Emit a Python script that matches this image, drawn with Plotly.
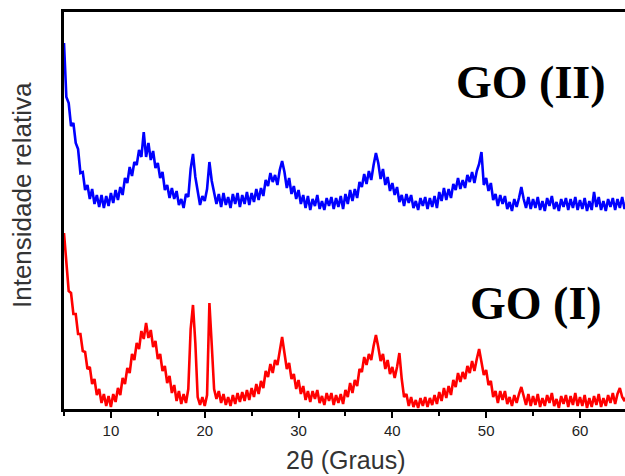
import numpy as np
import plotly.graph_objects as go

# 2θ sampling grid (degrees), 0.25° steps from 5° to 65°
two_theta = np.round(np.arange(5.0, 65.0 + 1e-9, 0.25), 2)

# Relative intensity of GO (II) (upper, blue pattern)
go_ii = [
    366, 312, 306, 283, 286, 266, 260, 236, 237, 219, 224, 210, 220, 205, 214, 202, 214, 201, 213, 203,
    216, 206, 219, 209, 222, 214, 231, 226, 242, 233, 247, 244, 259, 252, 277, 252, 266, 249, 258, 241,
    246, 231, 237, 219, 224, 211, 221, 210, 218, 204, 210, 201, 215, 212, 240, 255, 232, 216, 204, 213,
    208, 220, 247, 228, 216, 205, 215, 202, 216, 204, 212, 201, 215, 205, 216, 202, 214, 205, 217, 204,
    216, 207, 220, 209, 221, 213, 229, 223, 236, 227, 234, 224, 239, 248, 237, 221, 231, 215, 223, 210,
    219, 205, 214, 201, 213, 199, 210, 203, 214, 200, 208, 199, 211, 203, 212, 200, 211, 202, 213, 200,
    215, 205, 219, 208, 220, 211, 227, 222, 235, 225, 238, 229, 244, 256, 246, 230, 240, 224, 232, 218,
    226, 214, 222, 207, 214, 203, 215, 206, 214, 201, 208, 199, 211, 203, 212, 200, 211, 202, 213, 201,
    217, 208, 221, 209, 220, 211, 225, 219, 231, 220, 229, 221, 234, 227, 237, 226, 238, 245, 257, 224,
    231, 218, 226, 209, 215, 203, 214, 205, 213, 200, 207, 198, 210, 202, 211, 222, 210, 201, 212, 200,
    210, 201, 212, 199, 208, 198, 211, 203, 213, 200, 207, 198, 210, 202, 211, 199, 210, 201, 212, 199,
    209, 200, 211, 198, 208, 199, 217, 202, 212, 199, 208, 198, 210, 202, 211, 199, 210, 201, 212, 200, 209,
]

# Relative intensity of GO (I) (lower, red pattern)
go_i = [
    176, 146, 118, 116, 95, 95, 75, 75, 58, 57, 40, 42, 25, 30, 14, 20, 6, 15, 3, 13,
    2, 15, 7, 21, 14, 31, 25, 41, 36, 55, 49, 66, 60, 78, 70, 86, 71, 79, 62, 68,
    50, 55, 38, 43, 26, 33, 16, 24, 8, 18, 5, 15, 6, 20, 80, 104, 66, 12, 4, 12,
    3, 14, 106, 64, 20, 10, 18, 6, 15, 4, 12, 3, 14, 5, 16, 7, 17, 8, 19, 9,
    21, 12, 25, 15, 28, 21, 38, 32, 45, 36, 49, 44, 58, 72, 56, 40, 46, 30, 35, 20,
    29, 15, 23, 9, 18, 7, 18, 10, 19, 6, 13, 4, 16, 8, 16, 4, 14, 6, 15, 5,
    19, 12, 26, 16, 29, 23, 40, 37, 52, 44, 55, 49, 63, 74, 62, 48, 55, 40, 49, 35,
    42, 31, 42, 56, 30, 12, 15, 3, 12, 2, 9, 1, 11, 3, 12, 2, 11, 4, 14, 5,
    17, 8, 21, 11, 23, 14, 29, 22, 36, 27, 37, 30, 43, 36, 48, 38, 50, 60, 47, 34,
    39, 24, 28, 12, 18, 6, 18, 9, 18, 5, 12, 3, 14, 6, 15, 22, 13, 4, 15, 3,
    13, 4, 15, 2, 11, 3, 14, 6, 16, 3, 10, 1, 13, 5, 14, 2, 13, 4, 16, 3,
    12, 3, 14, 1, 11, 2, 13, 4, 15, 2, 11, 3, 14, 6, 16, 5, 15, 21, 12, 8, 14,
]

x_ticks = [10, 20, 30, 40, 50, 60]
x_tick_labels = ["10", "20", "30", "40", "50", "60"]
sample_labels = ["GO (II)", "GO (I)"]
x_title = "2θ (Graus)"
y_title = "Intensidade relativa"

sans = "Arial, Liberation Sans, sans-serif"
serif = "Times New Roman, Liberation Serif, serif"

fig = go.Figure()
fig.add_trace(go.Scatter(x=two_theta, y=go_ii, mode="lines",
                         line=dict(color="#0000ff", width=2.6), showlegend=False))
fig.add_trace(go.Scatter(x=two_theta, y=go_i, mode="lines",
                         line=dict(color="#ff0000", width=2.6), showlegend=False))

fig.update_layout(
    width=625, height=476,
    margin=dict(l=64, r=0, t=12, b=67),
    paper_bgcolor="white", plot_bgcolor="white",
    showlegend=False,
    xaxis=dict(
        range=[5, 64.8], showgrid=False, zeroline=False,
        showline=True, linecolor="black", linewidth=2.5, mirror=True,
        ticks="outside", ticklen=6, tickwidth=2, tickcolor="black",
        tickvals=x_ticks, ticktext=x_tick_labels,
        tickfont=dict(family=sans, size=15, color="#222222"),
        minor=dict(dtick=5, tick0=5, ticks="outside", ticklen=4, tickwidth=2, tickcolor="black"),
    ),
    yaxis=dict(
        range=[0, 397], showgrid=False, zeroline=False,
        showline=True, linecolor="black", linewidth=2.5, mirror=False,
        showticklabels=False, ticks="",
    ),
    annotations=[
        dict(text=sample_labels[0], x=0.8324, y=0.8212, xref="paper", yref="paper",
             xanchor="center", yanchor="middle", showarrow=False,
             font=dict(family=serif, size=46, color="black", weight="bold")),
        dict(text=sample_labels[1], x=0.8414, y=0.267, xref="paper", yref="paper",
             xanchor="center", yanchor="middle", showarrow=False,
             font=dict(family=serif, size=46, color="black", weight="bold")),
        dict(text=y_title, x=-0.0749, y=0.539, xref="paper", yref="paper",
             xanchor="center", yanchor="middle", showarrow=False, textangle=-90,
             font=dict(family=sans, size=26, color="#333333")),
        dict(text=x_title, x=0.5009, y=-0.1285, xref="paper", yref="paper",
             xanchor="center", yanchor="middle", showarrow=False,
             font=dict(family=sans, size=25, color="#333333")),
    ],
)

fig.write_html("out.html")
